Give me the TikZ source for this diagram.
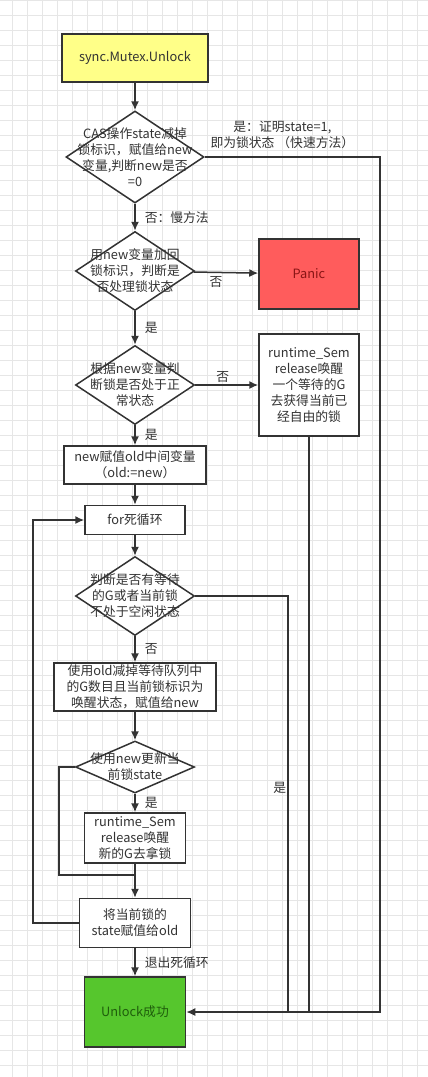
\documentclass[tikz,border=0pt]{standalone}
\usepackage{fontspec}
\setmainfont{Noto Sans CJK SC}
\usetikzlibrary{shapes.geometric,arrows.meta,positioning}
\definecolor{line}{HTML}{333333}
\definecolor{startfill}{HTML}{FFFF88}
\definecolor{panicfill}{HTML}{FF5C5C}
\definecolor{panictext}{HTML}{8A1515}
\definecolor{okfill}{HTML}{56C62D}
\definecolor{oktext}{HTML}{1F5E0C}
\definecolor{gridcol}{HTML}{E6E6E6}

\tikzset{
	box/.style={draw=line, line width=1.5pt, rectangle, fill=white, text=line, align=center, inner sep=0pt},
	decision/.style={draw=line, line width=1.5pt, diamond, fill=white, inner sep=0pt},
	lbl/.style={text=line, align=center, inner sep=1pt},
	gridline/.style={draw=gridcol, line width=0.6pt},
}

\begin{document}
\begin{tikzpicture}[x=1pt, y=-1pt, >={Latex[length=9pt,width=8pt]}, every node/.style={font=\fontsize{12.8}{16}\selectfont}]
	\useasboundingbox[fill=white] (0,0) rectangle (428,1077);
	% background grid
	\foreach \gx in {12,27,...,427} \draw[gridline] (\gx,0) -- (\gx,1077);
	\foreach \gy in {0,15,...,1076} \draw[gridline] (0,\gy) -- (428,\gy);

	\node[box, fill=startfill, minimum width=146pt, minimum height=48pt] (start) at (135,58) {sync.Mutex.Unlock};
	\node[decision, minimum width=138pt, minimum height=92pt, label={[lbl]center:{CAS操作state减掉\\锁标识，赋值给new\\变量,判断new是否\\=0}}] (d1) at (135,157) {};
	\node[decision, minimum width=119pt, minimum height=79pt, label={[lbl]center:{用new变量加回\\锁标识，判断是\\否处理锁状态}}] (d2) at (135,271) {};
	\node[box, fill=panicfill, text=panictext, minimum width=100pt, minimum height=70pt] (panic) at (309,274) {Panic};
	\node[decision, minimum width=119pt, minimum height=79pt, label={[lbl]center:{根据new变量判\\断锁是否处于正\\常状态}}] (d3) at (135,385) {};
	\node[box, minimum width=100pt, minimum height=102pt] (sem1) at (309,385) {runtime\_Sem\\release唤醒\\一个等待的G\\去获得当前已\\经自由的锁};
	\node[box, minimum width=142pt, minimum height=38pt] (old) at (135,465) {new赋值old中间变量\\（old:=new）};
	\node[box, minimum width=100pt, minimum height=29pt] (for) at (135,520) {for死循环};
	\node[decision, minimum width=119pt, minimum height=79pt, label={[lbl]center:{判断是否有等待\\的G或者当前锁\\不处于空闲状态}}] (d4) at (135,596) {};
	\node[box, minimum width=162pt, minimum height=48pt] (dec) at (135,687) {使用old减掉等待队列中\\的G数目且当前锁标识为\\唤醒状态，赋值给new};
	\node[decision, minimum width=119pt, minimum height=52pt, label={[lbl]center:{使用new更新当\\前锁state}}] (d5) at (135,767) {};
	\node[box, minimum width=101pt, minimum height=50pt] (sem2) at (135,838) {runtime\_Sem\\release唤醒\\新的G去拿锁};
	\node[box, minimum width=111pt, minimum height=49pt] (st) at (135,923) {将当前锁的\\state赋值给old};
	\node[box, fill=okfill, text=oktext, minimum width=101pt, minimum height=70pt] (ok) at (135,1012) {Unlock成功};

	\coordinate (fast) at (380,1012);
	\coordinate (idle) at (288,1012);
	\coordinate (loop) at (33,520);
	\coordinate (skip) at (59,875);

	\draw[->, draw=line, line width=1.5pt] (start) -- (d1);
	\draw[->, draw=line, line width=1.5pt] (d1) -- node[lbl, right, xshift=8pt] {否：慢方法} (d2);
	\draw[->, draw=line, line width=1.5pt] (d1.east) -| node[lbl, pos=0.25, above, xshift=-10pt, yshift=7pt] {是：证明state=1,\\即为锁状态 （快速方法）} (fast) -- (ok.east);
	\draw[->, draw=line, line width=1.5pt] (d2) -- node[lbl, below, xshift=-10pt, yshift=-2pt] {否} (panic);
	\draw[->, draw=line, line width=1.5pt] (d2) -- node[lbl, right, xshift=8pt] {是} (d3);
	\draw[->, draw=line, line width=1.5pt] (d3) -- node[lbl, above, xshift=-4pt, yshift=1pt] {否} (sem1);
	\draw[draw=line, line width=1.5pt] (sem1.south) -- (sem1.south |- ok.east);
	\draw[->, draw=line, line width=1.5pt] (d3) -- node[lbl, right, xshift=8pt] {是} (old);
	\draw[->, draw=line, line width=1.5pt] (old) -- (for);
	\draw[->, draw=line, line width=1.5pt] (for) -- (d4);
	\draw[draw=line, line width=1.5pt] (d4.east) -| node[lbl, pos=0.75, left, yshift=16pt] {是} (idle);
	\draw[->, draw=line, line width=1.5pt] (d4) -- node[lbl, right, xshift=8pt] {否} (dec);
	\draw[->, draw=line, line width=1.5pt] (dec) -- (d5);
	\draw[->, draw=line, line width=1.5pt] (d5) -- node[lbl, right, xshift=8pt] {是} (sem2);
	\draw[draw=line, line width=1.5pt] (d5.west) -| (skip) -- (skip -| sem2.south);
	\draw[->, draw=line, line width=1.5pt] (sem2) -- (st);
	\draw[->, draw=line, line width=1.5pt] (st.west) -| (loop) -- (for.west);
	\draw[->, draw=line, line width=1.5pt] (st) -- node[lbl, right, xshift=8pt] {退出死循环} (ok);
\end{tikzpicture}
\end{document}
